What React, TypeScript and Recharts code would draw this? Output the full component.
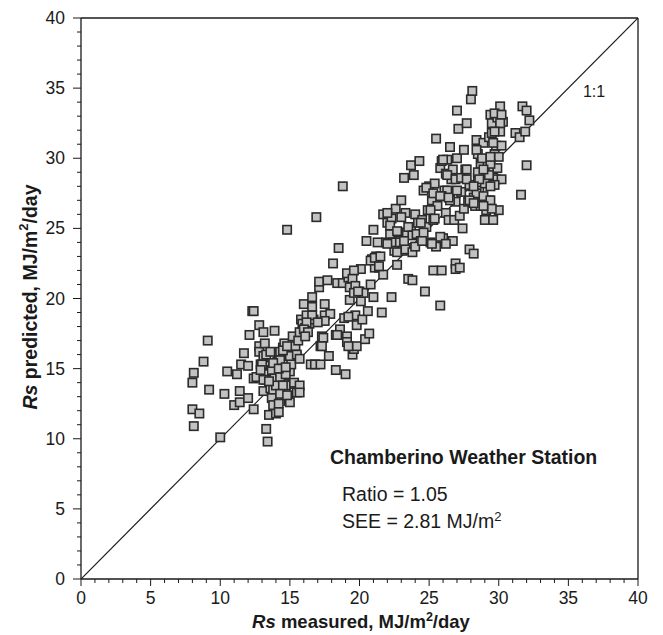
import React from 'react';
import { ScatterChart, Scatter, XAxis, YAxis, ReferenceLine } from 'recharts';

// [Rs measured, Rs predicted], MJ/m2/day
const lowBand: [number, number][] = [
  [8.0, 14.0], [8.1, 14.7], [8.0, 12.1], [8.1, 10.9], [8.5, 11.8], [8.8, 15.5], [9.1, 17.0], [9.2, 13.5], [10.0, 10.1], [10.3, 13.2],
  [10.5, 14.8], [11.0, 12.4], [11.2, 14.6], [11.4, 12.6], [11.4, 13.4], [11.5, 15.3], [11.7, 16.1], [12.1, 17.4], [12.0, 15.2], [12.0, 12.9],
  [12.3, 19.1], [12.4, 19.1], [12.4, 12.1], [12.4, 14.3], [12.6, 14.4], [12.8, 18.1], [12.8, 16.6], [12.8, 16.2], [12.9, 15.3], [13.1, 17.6],
  [13.2, 16.8], [13.1, 15.9], [13.2, 15.2], [13.1, 13.4], [13.3, 14.2], [13.3, 10.7], [13.4, 9.8], [13.5, 11.7], [13.6, 13.6], [13.7, 14.9],
  [13.9, 17.7], [13.8, 13.0], [13.9, 14.3], [14.0, 12.4], [14.0, 11.8], [14.1, 15.5], [14.2, 16.0], [14.2, 13.7], [14.3, 14.7], [14.4, 15.3],
  [14.5, 16.5], [14.5, 13.3], [14.6, 15.9], [14.6, 16.8], [14.7, 15.5], [14.8, 13.9], [14.8, 16.3], [14.9, 12.7], [14.8, 24.9], [15.0, 14.8],
  [15.1, 15.9], [15.2, 13.9], [15.2, 17.3], [15.4, 16.6], [15.5, 13.3], [15.5, 15.8], [15.6, 17.0], [15.7, 17.6], [15.8, 18.5], [15.9, 18.2],
  [13.8, 13.5], [13.7, 12.9], [13.8, 12.4], [14.2, 12.5], [14.2, 11.9], [14.0, 13.8], [13.3, 16.0], [13.0, 15.3], [12.9, 14.9], [14.0, 15.4],
  [14.3, 14.4], [14.7, 14.6], [14.7, 13.8], [15.3, 14.0], [15.7, 13.8], [14.7, 13.2], [15.7, 13.3], [15.0, 12.6], [15.1, 15.3], [15.0, 15.9],
  [15.5, 16.0], [15.7, 15.7], [14.3, 16.2], [13.6, 16.2], [14.5, 16.3], [14.8, 16.6], [14.3, 15.6], [13.8, 15.4], [14.2, 15.0], [14.7, 15.1],
  [13.1, 14.2], [13.5, 14.1], [14.5, 13.8], [14.3, 13.2], [14.8, 13.1],
];

const midBand: [number, number][] = [
  [16.0, 19.6], [16.1, 17.9], [16.2, 18.8], [16.4, 18.2], [16.5, 15.3], [16.6, 19.4], [16.6, 20.1], [16.7, 18.5], [16.8, 15.3], [16.9, 25.8],
  [17.1, 20.8], [17.1, 21.2], [17.2, 16.6], [17.3, 17.3], [17.5, 18.8], [17.5, 19.6], [17.7, 21.3], [17.8, 15.9], [17.9, 18.9], [18.1, 22.5],
  [18.3, 17.4], [18.3, 14.9], [18.4, 21.1], [18.5, 23.6], [18.6, 17.8], [18.8, 28.0], [18.8, 21.1], [18.9, 18.6], [19.0, 14.6], [19.1, 17.3],
  [19.1, 16.9], [19.2, 21.5], [19.3, 19.9], [19.4, 20.9], [19.5, 16.0], [19.6, 16.4], [19.7, 18.8], [19.8, 16.6], [19.8, 18.1], [20.0, 20.5],
  [20.1, 19.8], [20.1, 22.1], [20.2, 18.5], [20.3, 20.4], [20.4, 17.1], [20.5, 24.1], [20.6, 19.1], [20.7, 17.5], [20.8, 21.0], [20.9, 22.8],
  [21.0, 24.9], [21.1, 22.2], [21.2, 23.0], [21.3, 24.0], [21.4, 22.2], [21.6, 19.0], [21.7, 21.7], [21.7, 26.0], [21.9, 24.0], [22.0, 25.4],
  [22.2, 24.6], [22.3, 20.1], [22.3, 25.7], [22.4, 24.0], [22.5, 23.4], [22.6, 26.4], [22.7, 22.4], [22.8, 24.7], [22.9, 24.0], [23.0, 27.0],
  [23.1, 23.4], [23.2, 28.6], [23.3, 26.1], [23.4, 24.7], [23.5, 21.4], [23.6, 23.6], [23.7, 25.1], [23.7, 29.5], [23.8, 21.3], [23.9, 28.8],
  [19.1, 21.8], [19.6, 22.0], [19.5, 21.4], [19.3, 20.8], [19.7, 20.9], [19.6, 20.4], [19.9, 20.5], [20.8, 22.7], [21.1, 22.9], [21.4, 22.3],
  [21.5, 23.0], [22.7, 23.3], [23.3, 23.5], [23.8, 23.3], [21.0, 20.1], [19.2, 18.7], [16.6, 18.8], [17.5, 18.4], [17.0, 18.3], [16.2, 18.3],
  [16.0, 17.8], [16.3, 17.6], [16.1, 17.3], [18.4, 17.4], [19.2, 16.6], [17.4, 17.2], [17.3, 16.6], [17.2, 15.3],
  [22.0, 26.1], [23.0, 25.8], [22.2, 25.2], [22.7, 24.8], [23.5, 25.1], [23.8, 24.5], [22.0, 23.9], [23.2, 24.1],
];

const highBand: [number, number][] = [
  [24.0, 26.0], [24.1, 24.6], [24.2, 25.4], [24.3, 29.8], [24.4, 24.1], [24.5, 25.6], [24.6, 27.7], [24.7, 20.5], [24.8, 25.1], [24.9, 26.3],
  [25.0, 28.0], [25.1, 24.0], [25.2, 27.0], [25.3, 25.6], [25.3, 22.0], [25.4, 28.2], [25.5, 23.7], [25.5, 31.4], [25.6, 26.6], [25.8, 19.5],
  [25.8, 29.3], [25.9, 22.0], [26.0, 24.3], [26.1, 27.7], [26.2, 28.9], [26.2, 26.1], [26.3, 29.9], [26.4, 25.6], [26.5, 27.3], [26.5, 30.8],
  [26.6, 28.5], [26.7, 24.1], [26.8, 25.6], [26.9, 22.5], [26.9, 22.1], [26.9, 26.9], [27.0, 30.0], [27.0, 33.4], [27.1, 32.1], [27.2, 25.9],
  [27.2, 22.2], [27.3, 27.6], [27.4, 25.0], [27.5, 30.6], [27.5, 26.4], [27.6, 29.2], [27.7, 32.5], [27.8, 26.9], [27.9, 23.5], [28.0, 34.2],
  [28.1, 28.0], [28.1, 34.8], [28.2, 27.2], [28.2, 23.2], [28.3, 26.6], [28.4, 31.3], [28.5, 28.6], [28.5, 30.3], [28.6, 27.7], [28.7, 29.6],
  [28.8, 28.6], [28.9, 31.1], [29.0, 28.2], [29.0, 25.6], [29.1, 26.3], [29.2, 29.5], [29.3, 27.0], [29.3, 31.5], [29.4, 33.1], [29.5, 32.5],
  [29.5, 31.8], [29.6, 25.6], [29.6, 29.2], [29.7, 30.3], [29.8, 28.5], [29.8, 30.9], [29.9, 32.9], [29.9, 29.3], [30.0, 26.3], [30.1, 31.9],
  [30.1, 33.7], [30.2, 30.9], [30.2, 28.5], [30.3, 32.6], [31.2, 31.8], [31.5, 31.5], [31.6, 27.4], [31.7, 33.7], [31.9, 31.9], [32.0, 29.5],
  [32.0, 33.4], [32.2, 32.7],
  [29.6, 31.1], [30.0, 30.1], [29.4, 29.6], [29.7, 28.1], [29.3, 28.8], [28.5, 29.0], [28.6, 28.5], [28.4, 30.6], [28.8, 30.0], [26.7, 29.2],
  [26.3, 28.8], [25.9, 29.8], [26.9, 28.5], [27.3, 28.6], [27.9, 28.1], [28.4, 27.5], [28.9, 27.3], [26.3, 27.7], [25.9, 27.3], [26.5, 27.0],
  [27.9, 27.0], [28.7, 26.6], [29.4, 27.0], [29.5, 26.4], [29.7, 33.2], [30.2, 33.1], [30.1, 32.5], [29.7, 31.9],
  [24.4, 25.4], [24.6, 24.7], [25.1, 26.3], [25.4, 25.7], [25.8, 24.4], [26.2, 23.9], [24.0, 23.7], [24.5, 24.1], [25.2, 23.9],
  [27.7, 29.2], [26.0, 29.9], [24.8, 27.9], [25.3, 27.5], [25.8, 27.3], [26.4, 27.2], [27.0, 27.7], [27.7, 28.5], [28.2, 28.0], [28.9, 29.2],
  [29.4, 30.1], [29.4, 28.0], [28.2, 26.8], [28.9, 26.6],
];

const oneToOne = [{ x: 0, y: 0 }, { x: 40, y: 40 }];

const axisTicks = [
  0, 1, 2, 3, 4, 5, 6, 7, 8, 9, 10, 11, 12, 13, 14, 15, 16, 17, 18, 19, 20,
  21, 22, 23, 24, 25, 26, 27, 28, 29, 30, 31, 32, 33, 34, 35, 36, 37, 38, 39, 40,
];

const points = [...lowBand, ...midBand, ...highBand].map(([x, y]) => ({ x, y }));

const FONT = '"Liberation Sans", Arial, sans-serif';
const INK = '#1a1a1a';

const XTick = ({ x, y, payload }: any) => {
  const major = payload.value % 5 === 0;
  return (
    <g>
      <line x1={x} y1={y} x2={x} y2={y + (major ? 7 : 4)} stroke={INK} strokeWidth={1} />
      {major && (
        <text x={x} y={y + 25} textAnchor="middle" fontSize={17.5} fontFamily={FONT} fill={INK}>
          {payload.value}
        </text>
      )}
    </g>
  );
};

const YTick = ({ x, y, payload }: any) => {
  const major = payload.value % 5 === 0;
  return (
    <g>
      <line x1={x} y1={y} x2={x - (major ? 8 : 4)} y2={y} stroke={INK} strokeWidth={1} />
      {major && (
        <text x={x - 16} y={y} textAnchor="end" dominantBaseline="central" fontSize={17.5} fontFamily={FONT} fill={INK}>
          {payload.value}
        </text>
      )}
    </g>
  );
};

const SquareMarker = (props: any) => {
  const { cx, cy } = props;
  if (cx == null || cy == null) return <g />;
  return (
    <rect x={cx - 4.2} y={cy - 4.2} width={8.4} height={8.4} fill="#c2c2c2" stroke="#2b2b2b" strokeWidth={1.6} />
  );
};

export default function App() {
  return (
    <div style={{ position: 'relative', width: 655, height: 627, fontFamily: FONT }}>
      <ScatterChart width={655} height={627} margin={{ top: 10, right: 25, bottom: 0, left: 0 }}>
        <XAxis
          type="number"
          dataKey="x"
          domain={[0, 40]}
          ticks={axisTicks}
          interval={0}
          tickSize={0}
          tickMargin={0}
          tick={<XTick />}
          axisLine={{ stroke: INK, strokeWidth: 1.3 }}
          height={56}
          allowDataOverflow
        />
        <YAxis
          type="number"
          dataKey="y"
          domain={[0, 40]}
          ticks={axisTicks}
          interval={0}
          tickSize={0}
          tickMargin={0}
          tick={<YTick />}
          axisLine={{ stroke: INK, strokeWidth: 1.3 }}
          width={73}
          allowDataOverflow
        />
        <ReferenceLine x={40} stroke={INK} strokeWidth={1.3} />
        <ReferenceLine y={40} stroke={INK} strokeWidth={1.3} />
        <Scatter
          data={oneToOne}
          line={{ stroke: INK, strokeWidth: 1.2 }}
          shape={() => <g />}
          isAnimationActive={false}
        />
        <Scatter data={points} shape={<SquareMarker />} isAnimationActive={false} />
      </ScatterChart>

      <svg
        width={655}
        height={627}
        style={{ position: 'absolute', left: 0, top: 0, pointerEvents: 'none' }}
        fontFamily={FONT}
      >
        <text x={586} y={89} textAnchor="middle" fontSize={16} fill={INK}>1:1</text>
        <text x={322} y={456} fontSize={19.5} fontWeight="bold" fill={INK}>Chamberino Weather Station</text>
        <text x={334} y={493} fontSize={19.5} fill={INK}>Ratio = 1.05</text>
        <text x={334} y={520} fontSize={19.5} fill={INK}>
          SEE = 2.81 MJ/m<tspan fontSize={13} dy={-7}>2</tspan>
        </text>
        <text x={353} y={620} textAnchor="middle" fontSize={18.5} fontWeight="bold" fill={INK}>
          <tspan fontStyle="italic">Rs</tspan>
          <tspan>{'  measured, MJ/m'}</tspan>
          <tspan fontSize={12.5} dy={-7}>2</tspan>
          <tspan dy={7}>/day</tspan>
        </text>
        <text
          x={22}
          y={289}
          textAnchor="middle"
          dominantBaseline="central"
          transform="rotate(-90 22 289)"
          fontSize={19.5}
          fontWeight="bold"
          fill={INK}
        >
          <tspan fontStyle="italic">Rs</tspan>
          <tspan>{'  predicted, MJ/m'}</tspan>
          <tspan fontSize={13} dy={-7}>2</tspan>
          <tspan dy={7}>/day</tspan>
        </text>
      </svg>
    </div>
  );
}
